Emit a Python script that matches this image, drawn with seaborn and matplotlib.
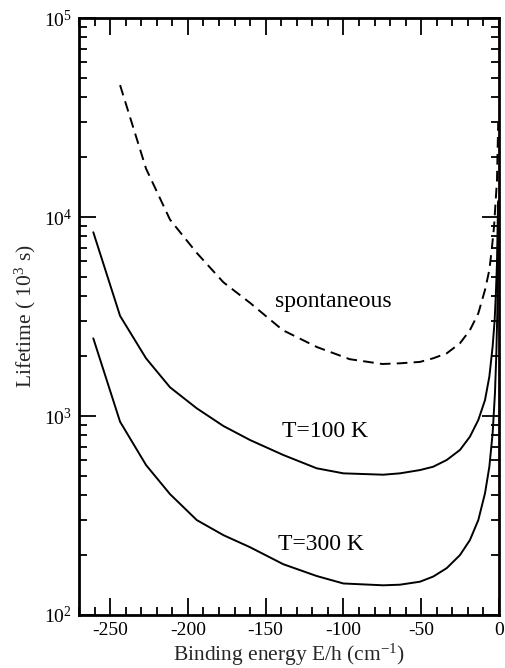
import numpy as np
import pandas as pd
import matplotlib
matplotlib.use("Agg")
import matplotlib.pyplot as plt
import seaborn as sns
from matplotlib.ticker import MultipleLocator, LogLocator, LogFormatterSciNotation, NullFormatter

# ---- data ----
spont_E = [-243.6, -226.9, -211.5, -194.3, -177.2, -160.0, -139.0, -117.0, -96.0, -75.0,
           -63.7, -50.8, -42.3, -33.6, -25.1, -18.7, -13.3, -9.0, -6.2, -4.7, -3.2,
           -2.1, -1.3, -0.5]
spont_tau = [46000, 17500, 9700, 6600, 4700, 3700, 2700, 2220, 1930, 1825,
             1840, 1870, 1950, 2065, 2320, 2700, 3280, 4300, 5420, 6820, 8930,
             12200, 15300, 30000]

t100_E = [-260.8, -243.6, -226.9, -211.5, -194.3, -177.2, -160.0, -138.7, -117.2, -100.0,
          -74.4, -63.7, -50.8, -42.3, -33.6, -25.1, -18.7, -13.3, -9.0, -6.2, -4.1,
          -2.8, -2.0, -1.3, -0.6]
t100_tau = [8380, 3185, 1949, 1394, 1093, 891, 757, 637, 546, 515,
            507, 515, 535, 556, 601, 675, 787, 955, 1202, 1578, 2230,
            3030, 4140, 5850, 12000]

t300_E = [-260.8, -243.6, -226.9, -211.5, -194.3, -177.2, -160.0, -138.7, -117.2, -100.0,
          -74.4, -63.7, -50.8, -42.3, -33.6, -25.1, -18.7, -13.3, -9.0, -6.2, -4.1,
          -2.6, -1.7, -1.1, -0.3]
t300_tau = [2455, 936, 567, 405, 300, 252, 219, 180, 157, 144,
            141, 142, 147, 156, 172, 200, 238, 300, 409, 556, 818,
            1300, 2065, 3280, 10000]

labels = ["spontaneous", "T=100 K", "T=300 K"]
label_E = [-106.4, -111.9, -114.2]
label_tau = [3740, 832, 225]

x_ticks = [-250, -200, -150, -100, -50, 0]

# ---- style ----
sns.set_theme(style="ticks")
plt.rcParams["font.family"] = ["Liberation Serif", "DejaVu Serif"]
plt.rcParams["mathtext.fontset"] = "custom"
plt.rcParams["mathtext.rm"] = "Liberation Serif"
plt.rcParams["mathtext.it"] = "Liberation Serif:italic"
plt.rcParams["mathtext.bf"] = "Liberation Serif:bold"
plt.rcParams["axes.unicode_minus"] = False

fig = plt.figure(figsize=(5.05, 6.68), dpi=100)
ax = fig.add_axes([79 / 505, 53 / 668, 420 / 505, 597 / 668])

df_s = pd.DataFrame({"E": spont_E, "tau": spont_tau})
df_1 = pd.DataFrame({"E": t100_E, "tau": t100_tau})
df_3 = pd.DataFrame({"E": t300_E, "tau": t300_tau})

lw = 1.4
sns.lineplot(data=df_s, x="E", y="tau", ax=ax, color="black", lw=lw, sort=False,
             estimator=None)
ax.lines[-1].set_dashes([5.5, 3.2])
sns.lineplot(data=df_1, x="E", y="tau", ax=ax, color="black", lw=lw, sort=False, estimator=None)
sns.lineplot(data=df_3, x="E", y="tau", ax=ax, color="black", lw=lw, sort=False, estimator=None)

ax.set_yscale("log")
ax.set_xlim(-270, 0)
ax.set_ylim(1e2, 1e5)

ax.xaxis.set_major_locator(MultipleLocator(50))
ax.xaxis.set_minor_locator(MultipleLocator(10))
ax.set_xticks(x_ticks)
ax.set_xticklabels([str(v) for v in x_ticks])
ax.yaxis.set_major_locator(LogLocator(base=10, numticks=10))
ax.yaxis.set_minor_locator(LogLocator(base=10, subs=np.arange(2, 10), numticks=20))
ax.yaxis.set_major_formatter(LogFormatterSciNotation())
ax.yaxis.set_minor_formatter(NullFormatter())

ax.tick_params(which="both", direction="in", top=True, right=True, colors="black",
               labelsize=14, pad=5)
ax.tick_params(which="major", length=12, width=1.3)
ax.tick_params(which="minor", length=6, width=1.3)
for sp in ax.spines.values():
    sp.set_linewidth(2.0)
    sp.set_color("black")
    sp.set_visible(True)

ax.set_xlabel("Binding energy E/h (cm$^{-1}$)", fontsize=15.5, labelpad=2)
ax.set_ylabel("Lifetime ( 10$^{3}$ s)", fontsize=15.5, labelpad=4)

for t, xe, yt in zip(labels, label_E, label_tau):
    ax.text(xe, yt, t, fontsize=17, ha="center", va="center", color="black")

fig.savefig("out.png", dpi=100)
